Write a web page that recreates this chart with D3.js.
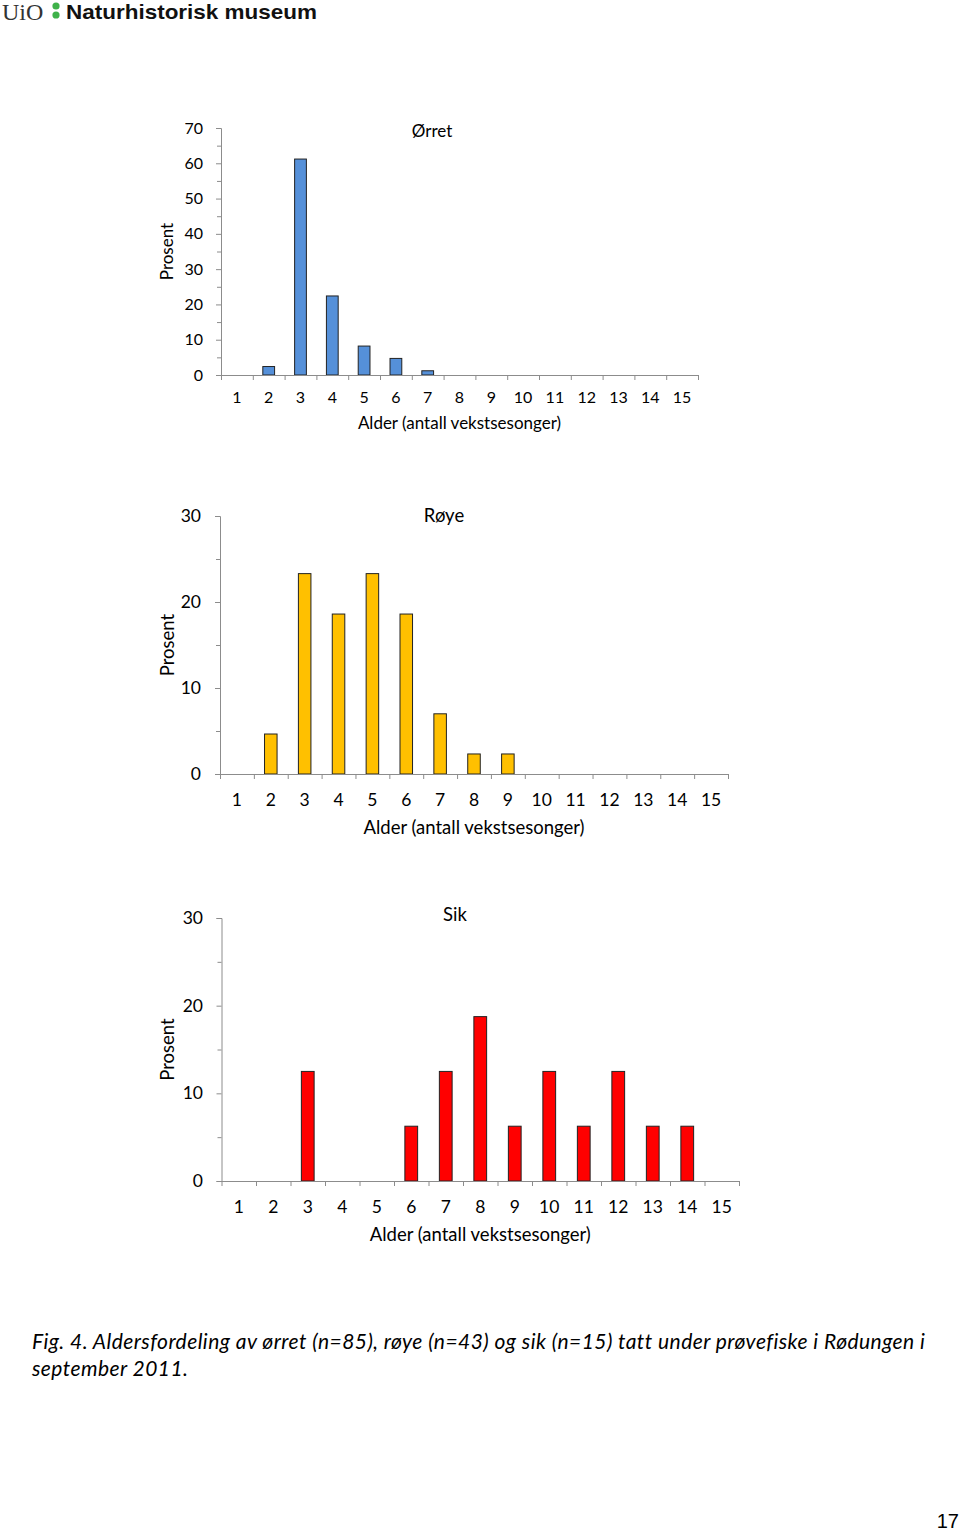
<!DOCTYPE html>
<html>
<head>
<meta charset="utf-8">
<script src="https://cdn.jsdelivr.net/npm/d3@7"></script>
<style>
  html, body { margin: 0; padding: 0; background: #fff; }
  svg { display: block; }
  .lbl { font-family: Lato, "Open Sans", sans-serif; fill: #000; }
</style>
</head>
<body>
<svg id="page" width="960" height="1531"></svg>
<script>
// ---- data ----
const ages = [1,2,3,4,5,6,7,8,9,10,11,12,13,14,15];
const orretValues = [0, 2.4, 61.2, 22.4, 8.2, 4.7, 1.2, 0, 0, 0, 0, 0, 0, 0, 0];
const royeValues  = [0, 4.65, 23.3, 18.6, 23.3, 18.6, 7.0, 2.33, 2.33, 0, 0, 0, 0, 0, 0];
const sikValues   = [0, 0, 12.5, 0, 0, 6.25, 12.5, 18.75, 6.25, 12.5, 6.25, 12.5, 6.25, 6.25, 0];
const orretYTicks = [0,10,20,30,40,50,60,70];
const royeYTicks  = [0,10,20,30];
const sikYTicks   = [0,10,20,30];
const titles = ["Ørret", "Røye", "Sik"];
const xTitle = "Alder (antall vekstsesonger)";
const yTitle = "Prosent";
const captionLines = [
  "Fig. 4. Aldersfordeling av ørret (n=85), røye (n=43) og sik (n=15) tatt under prøvefiske i Rødungen i",
  "september 2011."
];

const svg = d3.select("#page");
const axisColor = "#8c8c8c";

// ---- header ----
svg.append("text").attr("x", 2).attr("y", 20)
  .style("font-family", "'Liberation Serif', serif").style("font-size", "24px").attr("fill", "#333")
  .text("UiO");
svg.append("circle").attr("cx", 56).attr("cy", 6).attr("r", 3.6).attr("fill", "#3fb24a");
svg.append("circle").attr("cx", 56).attr("cy", 15).attr("r", 3.6).attr("fill", "#3fb24a");
svg.append("text").attr("x", 66).attr("y", 19)
  .style("font-family", "'Liberation Sans', Arial, sans-serif").style("font-weight", "bold")
  .style("font-size", "21px").attr("fill", "#111")
  .attr("textLength", 251).attr("lengthAdjust", "spacingAndGlyphs")
  .text("Naturhistorisk museum");

// ---- charts ----
const charts = [
  { values: orretValues, ticks: orretYTicks, max: 70, title: titles[0], color: "#5590d9",
    x0: 221, x1: 698, yTop: 128, yBot: 375, tickFont: 16, axFont: 17,
    tickDy: 22, axDy: 48, yLblX: 203, yTitleX: 167, titleX: 432, titleY: 131 },
  { values: royeValues, ticks: royeYTicks, max: 30, title: titles[1], color: "#ffc000",
    x0: 220, x1: 728, yTop: 516, yBot: 774, tickFont: 17.5, axFont: 18.5,
    tickDy: 26, axDy: 54, yLblX: 201, yTitleX: 168, titleX: 444, titleY: 516 },
  { values: sikValues, ticks: sikYTicks, max: 30, title: titles[2], color: "#ff0000",
    x0: 221.5, x1: 739, yTop: 918, yBot: 1181, tickFont: 17.5, axFont: 18.5,
    tickDy: 26, axDy: 54, yLblX: 203, yTitleX: 168, titleX: 455, titleY: 915 }
];

charts.forEach(c => {
  const g = svg.append("g");
  const xBand = d3.scaleBand().domain(ages).range([c.x0, c.x1]).padding(0);
  const xLin = d3.scaleLinear().domain([0.5, 15.5]).range([c.x0, c.x1]);
  const y = d3.scaleLinear().domain([0, c.max]).range([c.yBot, c.yTop]);

  // bars
  const bw = xBand.bandwidth() * 0.37;
  g.selectAll("rect.bar").data(ages.map((a, i) => ({a, v: c.values[i]})).filter(d => d.v > 0))
    .join("rect").attr("class", "bar")
    .attr("x", d => xBand(d.a) + xBand.bandwidth() / 2 - bw / 2)
    .attr("width", bw)
    .attr("y", d => y(d.v))
    .attr("height", d => y(0) - y(d.v))
    .attr("fill", c.color).attr("stroke", "#222").attr("stroke-width", 1);

  // y axis (major + minor)
  const minor = [];
  for (let v = 5; v < c.max; v += 10) minor.push(v);
  const yAx = g.append("g").attr("transform", `translate(${c.x0},0)`)
    .call(d3.axisLeft(y).tickValues(c.ticks).tickSize(5).tickFormat(""));
  const yMin = g.append("g").attr("transform", `translate(${c.x0},0)`)
    .call(d3.axisLeft(y).tickValues(minor).tickSize(4).tickFormat(""));
  [yAx, yMin].forEach(a => {
    a.select(".domain").attr("stroke", axisColor);
    a.selectAll(".tick line").attr("stroke", axisColor);
  });
  yMin.select(".domain").remove();

  // y tick labels
  g.selectAll("text.ylab").data(c.ticks).join("text").attr("class", "lbl ylab")
    .attr("x", c.yLblX).attr("y", d => y(d)).attr("dy", "0.35em")
    .attr("text-anchor", "end").style("font-size", c.tickFont + "px")
    .text(d => d);

  // x axis with ticks at band boundaries
  const bounds = d3.range(0.5, 16, 1);
  const xAx = g.append("g").attr("transform", `translate(0,${c.yBot})`)
    .call(d3.axisBottom(xLin).tickValues(bounds).tickSize(5).tickSizeOuter(0).tickFormat(""));
  xAx.select(".domain").attr("stroke", axisColor);
  xAx.selectAll(".tick line").attr("stroke", axisColor);

  // x tick labels
  g.selectAll("text.xlab").data(ages).join("text").attr("class", "lbl xlab")
    .attr("x", d => xBand(d) + xBand.bandwidth() / 2).attr("y", c.yBot + c.tickDy)
    .attr("dy", "0.35em").attr("text-anchor", "middle").style("font-size", c.tickFont + "px")
    .text(d => d);

  // axis titles
  g.append("text").attr("class", "lbl")
    .attr("x", (c.x0 + c.x1) / 2).attr("y", c.yBot + c.axDy).attr("dy", "0.35em")
    .attr("text-anchor", "middle").style("font-size", c.axFont + "px").text(xTitle);
  g.append("text").attr("class", "lbl")
    .attr("transform", `translate(${c.yTitleX},${(c.yTop + c.yBot) / 2}) rotate(-90)`)
    .attr("dy", "0.35em").attr("text-anchor", "middle").style("font-size", c.axFont + "px")
    .text(yTitle);

  // chart title
  g.append("text").attr("class", "lbl")
    .attr("x", c.titleX).attr("y", c.titleY).attr("dy", "0.35em")
    .attr("text-anchor", "middle").style("font-size", c.axFont + "px").text(c.title);
});

// ---- caption ----
svg.selectAll("text.cap").data(captionLines).join("text").attr("class", "lbl cap")
  .attr("x", 32).attr("y", (d, i) => 1349 + i * 27)
  .style("font-size", "21px").style("font-style", "italic").style("letter-spacing", "0.45px")
  .text(d => d);

// ---- page number ----
svg.append("text").attr("x", 959).attr("y", 1528).attr("text-anchor", "end")
  .style("font-family", "'Liberation Sans', Arial, sans-serif").style("font-size", "20px")
  .text("17");
</script>
</body>
</html>
